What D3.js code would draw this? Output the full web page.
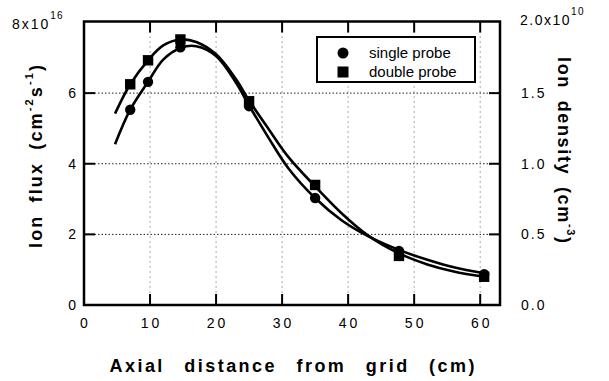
<!DOCTYPE html>
<html><head><meta charset="utf-8">
<script src="https://cdn.jsdelivr.net/npm/d3@7"></script>
<style>
body{margin:0;background:#fff;}
svg{display:block;font-family:"Liberation Sans",Arial,sans-serif;}
</style></head>
<body><div id="chart"></div>
<script>
// ---- data ----
const distances = [7, 9.7, 14.6, 25, 35, 47.7, 60.6];
const singleProbe = [5.53, 6.32, 7.3, 5.63, 3.03, 1.53, 0.87];
const doubleProbe = [6.25, 6.93, 7.52, 5.77, 3.4, 1.39, 0.8];
// fitted curves as drawn in the figure
const fitX = [4.7, 7, 9.7, 12, 14.6, 17, 20, 23, 25, 28, 31, 35, 39, 43, 47.7, 52, 56, 60.6];
const singleFit = [4.55, 5.53, 6.32, 6.95, 7.28, 7.33, 7.05, 6.3, 5.65, 4.72, 3.86, 3.03, 2.4, 1.95, 1.56, 1.28, 1.07, 0.9];
const doubleFit = [5.42, 6.25, 6.93, 7.35, 7.52, 7.45, 7.1, 6.4, 5.79, 4.97, 4.18, 3.36, 2.6, 1.97, 1.46, 1.15, 0.95, 0.8];
const xTicks = [0, 10, 20, 30, 40, 50, 60];
const yTicks = [0, 2, 4, 6];
const yTopLabel = ["8x10", "16"];
const rTicks = ["0.0", "0.5", "1.0", "1.5"];
const rTopLabel = ["2.0x10", "10"];
const legendItems = ["single probe", "double probe"];

const W = 609, H = 381;
const svg = d3.select("#chart").append("svg").attr("width", W).attr("height", H);
const x = d3.scaleLinear().domain([0, 63]).range([84, 500]);
const y = d3.scaleLinear().domain([0, 8]).range([305, 22.5]);
const yR = d3.scaleLinear().domain([0, 2.0]).range([305, 22.5]);
const [x0, x1] = x.range();
const yb = y(0), yt = 21.5;

// grid
const g = svg.append("g");
g.selectAll(".hg").data([2, 4, 6]).enter().append("line")
  .attr("x1", x0).attr("x2", x1).attr("y1", d => y(d)).attr("y2", d => y(d))
  .attr("stroke", "#222").attr("stroke-width", 1).attr("stroke-dasharray", "1.5,2");
g.selectAll(".vg").data(xTicks.slice(1)).enter().append("line")
  .attr("x1", d => x(d)).attr("x2", d => x(d)).attr("y1", yt).attr("y2", yb)
  .attr("stroke", "#555").attr("stroke-width", 1).attr("stroke-dasharray", "1,4");

// ticks
const tl = 11;
xTicks.slice(1).forEach(d => {
  g.append("line").attr("x1", x(d)).attr("x2", x(d)).attr("y1", yb).attr("y2", yb - tl).attr("stroke", "#000").attr("stroke-width", 2);
  g.append("line").attr("x1", x(d)).attr("x2", x(d)).attr("y1", yt).attr("y2", yt + tl).attr("stroke", "#000").attr("stroke-width", 2);
});
[2, 4, 6].forEach(d => {
  g.append("line").attr("x1", x0).attr("x2", x0 + tl).attr("y1", y(d)).attr("y2", y(d)).attr("stroke", "#000").attr("stroke-width", 2);
  g.append("line").attr("x1", x1).attr("x2", x1 - tl).attr("y1", y(d)).attr("y2", y(d)).attr("stroke", "#000").attr("stroke-width", 2);
});

// frame
svg.append("rect").attr("x", x0).attr("y", yt).attr("width", x1 - x0).attr("height", yb - yt)
  .attr("fill", "none").attr("stroke", "#000").attr("stroke-width", 2.5);

// curves
const line = d3.line().x(d => x(d[0])).y(d => y(d[1])).curve(d3.curveCatmullRom.alpha(0.5));
[singleFit, doubleFit].forEach(vals => {
  svg.append("path").datum(fitX.map((v, i) => [v, vals[i]])).attr("d", line)
    .attr("fill", "none").attr("stroke", "#000").attr("stroke-width", 2.6);
});

// markers
svg.selectAll(".c").data(distances).enter().append("circle")
  .attr("cx", d => x(d)).attr("cy", (d, i) => y(singleProbe[i])).attr("r", 5.2).attr("fill", "#000");
svg.selectAll(".s").data(distances).enter().append("rect")
  .attr("x", d => x(d) - 5.2).attr("y", (d, i) => y(doubleProbe[i]) - 5.2).attr("width", 10.4).attr("height", 10.4).attr("fill", "#000");

// tick labels
const tick = svg.append("g").attr("font-size", 14).attr("fill", "#000");
tick.selectAll(".xl").data(xTicks).enter().append("text")
  .attr("x", d => x(d) + (d >= 10 ? 1.5 : 0)).attr("y", 328).attr("text-anchor", "middle")
  .attr("letter-spacing", d => d >= 10 ? 3 : 0).text(d => d);
tick.selectAll(".yl").data(yTicks).enter().append("text")
  .attr("x", 76).attr("y", d => y(d) + 5).attr("text-anchor", "end").text(d => d);
const ytl = tick.append("text").attr("x", 12).attr("y", 29).attr("letter-spacing", 2);
ytl.append("tspan").text(yTopLabel[0]);
ytl.append("tspan").attr("dy", -10).attr("font-size", 10).attr("letter-spacing", 1).text(yTopLabel[1]);
tick.selectAll(".rl").data(rTicks).enter().append("text")
  .attr("x", 521).attr("y", (d, i) => yR(+d) + 5).attr("letter-spacing", 2).text(d => d);
const rtl = tick.append("text").attr("x", 520).attr("y", 25).attr("letter-spacing", 1.5);
rtl.append("tspan").text(rTopLabel[0]);
rtl.append("tspan").attr("dy", -10).attr("font-size", 10).text(rTopLabel[1]);

// axis titles
svg.append("text").attr("x", 292).attr("y", 372).attr("text-anchor", "middle")
  .attr("font-size", 18).attr("font-weight", "bold").attr("word-spacing", 12)
  .attr("textLength", 365).attr("lengthAdjust", "spacing")
  .text("Axial distance from grid (cm)");

const lt = svg.append("text").attr("transform", "translate(42,156.5) rotate(-90)")
  .attr("text-anchor", "middle").attr("font-size", 18).attr("font-weight", "bold").attr("word-spacing", 5)
  .attr("textLength", 183).attr("lengthAdjust", "spacing");
lt.append("tspan").text("Ion flux (cm");
lt.append("tspan").attr("dy", -9).attr("font-size", 11).text("-2");
lt.append("tspan").attr("dy", 9).text("s");
lt.append("tspan").attr("dy", -9).attr("font-size", 11).text("-1");
lt.append("tspan").attr("dy", 9).text(")");

const rt = svg.append("text").attr("transform", "translate(558,150) rotate(90)")
  .attr("text-anchor", "middle").attr("font-size", 18).attr("font-weight", "bold").attr("word-spacing", 5)
  .attr("textLength", 186).attr("lengthAdjust", "spacing");
rt.append("tspan").text("Ion density (cm");
rt.append("tspan").attr("dy", -9).attr("font-size", 11).text("-3");
rt.append("tspan").attr("dy", 9).text(")");

// legend
const lg = svg.append("g");
lg.append("rect").attr("x", 317).attr("y", 37).attr("width", 158).attr("height", 45)
  .attr("fill", "#fff").attr("stroke", "#000").attr("stroke-width", 2);
lg.append("circle").attr("cx", 343).attr("cy", 53).attr("r", 5.5).attr("fill", "#000");
lg.append("rect").attr("x", 337.5).attr("y", 66.5).attr("width", 11).attr("height", 11).attr("fill", "#000");
lg.selectAll(".lt").data(legendItems).enter().append("text")
  .attr("x", 369).attr("y", (d, i) => 58 + i * 19).attr("font-size", 15).text(d => d);
</script></body></html>
